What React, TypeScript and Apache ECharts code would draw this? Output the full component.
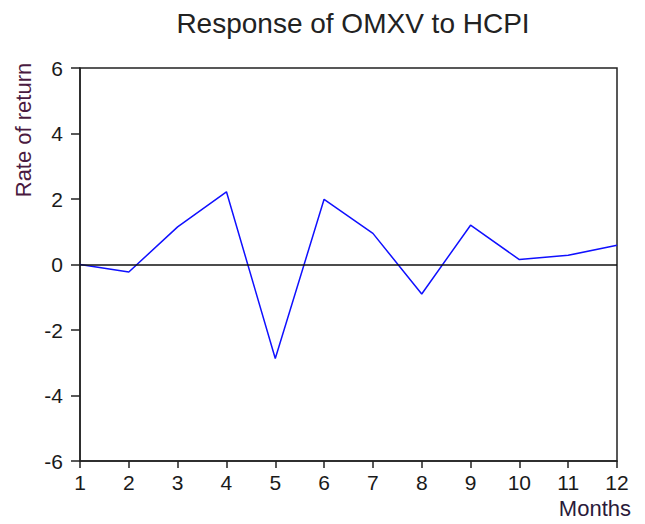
import React, { useEffect, useRef } from "react";
import * as echarts from "echarts";

const months = [1, 2, 3, 4, 5, 6, 7, 8, 9, 10, 11, 12];
const response = [0.0, -0.23, 1.15, 2.22, -2.87, 1.99, 0.95, -0.9, 1.2, 0.15, 0.28, 0.59];
const yTicks = { min: -6, max: 6, interval: 2 };
const titleText = "Response of OMXV to HCPI";
const yLabel = "Rate of return";
const xLabel = "Months";

export default function App() {
  const ref = useRef<HTMLDivElement>(null);
  useEffect(() => {
    if (!ref.current) return;
    const chart = echarts.init(ref.current, undefined, { renderer: "svg" });
    const font = "'Liberation Sans', Arial, sans-serif";
    chart.setOption({
      animation: false,
      backgroundColor: "#ffffff",
      title: {
        text: titleText,
        left: 348,
        top: 4,
        textAlign: "center",
        textStyle: { fontSize: 28, fontWeight: "normal", color: "#222", fontFamily: font },
      },
      grid: {
        left: 80,
        right: 28,
        top: 68,
        bottom: 63,
        show: true,
        borderColor: "#222",
        borderWidth: 1.5,
        backgroundColor: "#fff",
      },
      xAxis: {
        type: "value",
        min: 1,
        max: 12,
        interval: 1,
        axisLine: { show: true, onZero: false, lineStyle: { color: "#222", width: 1.5 } },
        axisTick: { show: true, length: 7, lineStyle: { color: "#222", width: 1.5 } },
        axisLabel: { fontSize: 21, color: "#1a1a1a", margin: 11, fontFamily: font },
        splitLine: { show: false },
      },
      yAxis: {
        type: "value",
        min: yTicks.min,
        max: yTicks.max,
        interval: yTicks.interval,
        axisLine: { show: true, lineStyle: { color: "#222", width: 1.5 } },
        axisTick: { show: true, length: 9, lineStyle: { color: "#222", width: 1.5 } },
        axisLabel: { fontSize: 21, color: "#1a1a1a", margin: 17, fontFamily: font },
        splitLine: { show: false },
      },
      graphic: [
        {
          type: "text",
          x: 23,
          y: 130,
          rotation: Math.PI / 2,
          style: {
            text: yLabel,
            fontSize: 22,
            fill: "#4a1a40",
            fontFamily: font,
            align: "center",
            verticalAlign: "middle",
          },
        },
        {
          type: "text",
          x: 631,
          y: 508,
          style: {
            text: xLabel,
            fontSize: 22,
            fill: "#2a1a3a",
            fontFamily: font,
            align: "right",
            verticalAlign: "middle",
          },
        },
      ],
      series: [
        {
          type: "line",
          data: months.map((m, i) => [m, response[i]]),
          symbol: "none",
          lineStyle: { color: "#1010ff", width: 1.5 },
          markLine: {
            silent: true,
            symbol: "none",
            label: { show: false },
            lineStyle: { color: "#111", width: 1.5, type: "solid" },
            data: [{ yAxis: 0 }],
          },
          z: 3,
        },
      ],
    });
    return () => chart.dispose();
  }, []);
  return (
    <div
      ref={ref}
      style={{ position: "fixed", left: 0, top: 0, width: 645, height: 524 }}
    />
  );
}
